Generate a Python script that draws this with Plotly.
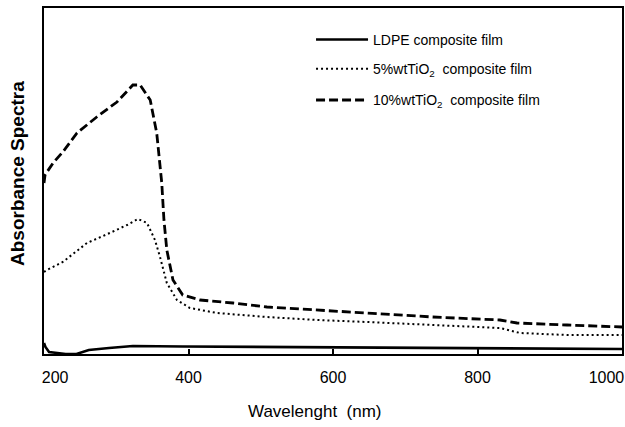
import plotly.graph_objects as go

# Wavelength (nm) and absorbance (arbitrary units)
wl_ldpe = [200, 202, 207, 230, 245, 262, 290, 323, 392, 600, 850, 1000]
ab_ldpe = [0.11, 0.07, 0.02, 0.0, 0.0, 0.04, 0.06, 0.08, 0.075, 0.065, 0.05, 0.05]

wl_5 = [200, 204, 226, 259.5, 291, 315, 330, 342.6, 353.6, 360.6, 370, 384, 402, 439.5,
        508.6, 578, 647, 738, 831, 859, 924, 1000]
ab_5 = [0.82, 0.84, 0.92, 1.11, 1.21, 1.29, 1.35, 1.31, 1.14, 0.97, 0.71, 0.54, 0.46, 0.41,
        0.37, 0.34, 0.32, 0.29, 0.26, 0.21, 0.19, 0.19]

wl_10 = [200, 201.4, 212.5, 226, 245.7, 273, 301, 323, 333, 347, 356, 363, 366, 370, 378.5,
         392, 416, 461.6, 508.6, 578, 647, 738, 831, 854.7, 924, 1000]
ab_10 = [1.71, 1.79, 1.91, 2.02, 2.21, 2.37, 2.52, 2.69, 2.69, 2.54, 2.21, 1.71, 1.34, 1.04,
         0.74, 0.59, 0.54, 0.51, 0.47, 0.44, 0.41, 0.37, 0.34, 0.31, 0.29, 0.27]

x_ticks = [200, 400, 600, 800, 1000]
x_ticktext = ["\u00a0" * 5 + "200", "400", "600", "800", "1000" + "\u00a0" * 7]
names = ["LDPE composite film", "5%wtTiO<sub>2</sub>  composite film",
         "10%wtTiO<sub>2</sub>  composite film"]

FONT = "Liberation Sans, Arial, sans-serif"

fig = go.Figure()
fig.add_trace(go.Scatter(x=wl_ldpe, y=ab_ldpe, mode="lines", name=names[0],
                         line=dict(color="black", width=2.6), legend="legend"))
fig.add_trace(go.Scatter(x=wl_5, y=ab_5, mode="lines", name=names[1],
                         line=dict(color="black", width=2, dash="2px,3px"), legend="legend2"))
fig.add_trace(go.Scatter(x=wl_10, y=ab_10, mode="lines", name=names[2],
                         line=dict(color="black", width=2.8, dash="9px,4px"), legend="legend3"))

leg_common = dict(font=dict(family=FONT, size=14, color="black"), bgcolor="rgba(0,0,0,0)",
                  xanchor="left", yanchor="middle", itemwidth=52, x=0.462)

fig.update_layout(
    width=625, height=427,
    margin=dict(l=44, r=3, t=8, b=73, autoexpand=False),
    plot_bgcolor="white", paper_bgcolor="white",
    font=dict(family=FONT, color="black"),
    showlegend=True,
    legend=dict(**leg_common, y=0.908),
    legend2=dict(**leg_common, y=0.823),
    legend3=dict(**leg_common, y=0.733),
    xaxis=dict(range=[200, 1000], tickvals=x_ticks, ticktext=x_ticktext, ticks="inside",
               ticklen=5, tickwidth=1.5, ticklabeloverflow="allow", automargin=False,
               ticklabelstandoff=8,
               tickcolor="black", showline=True, linecolor="black", linewidth=2, mirror=True,
               showgrid=False, zeroline=False, tickfont=dict(size=16, family=FONT)),
    yaxis=dict(range=[0, 3.46], showticklabels=False, ticks="", showline=True, automargin=False,
               linecolor="black", linewidth=2, mirror=True, showgrid=False, zeroline=False),
    annotations=[
        dict(text="Wavelenght  (nm)", x=315, y=411, xref="paper", yref="paper",
             showarrow=False, font=dict(size=17, family=FONT)),
        dict(text="<b>Absorbance Spectra</b>", x=17, y=174, xref="paper", yref="paper",
             showarrow=False, textangle=-90, font=dict(size=19, family=FONT)),
    ],
)

# convert annotation pixel positions to paper coords
W, H = 625, 427
l, r, t, b = 44, 3, 8, 73
pw, ph = W - l - r, H - t - b
for a in fig.layout.annotations:
    a.x = (a.x - l) / pw
    a.y = (H - b - a.y) / ph
    a.xanchor = "center"
    a.yanchor = "middle"

fig.write_html("out.html")
